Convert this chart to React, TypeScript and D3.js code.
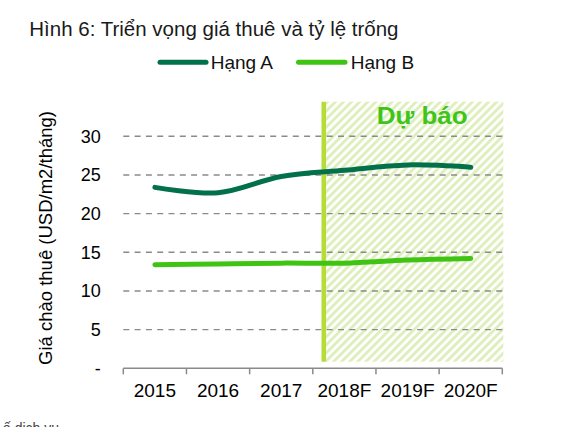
import React from "react";
import * as d3 from "d3";

const categories = ["2015", "2016", "2017", "2018F", "2019F", "2020F"];
const hangA = [23.4, 22.7, 24.8, 25.6, 26.3, 26.0];
const hangB = [13.4, 13.5, 13.6, 13.6, 14.0, 14.2];
const yTicks = [0, 5, 10, 15, 20, 25, 30];
const yTickLabels = ["-", "5", "10", "15", "20", "25", "30"];
const seriesNames = ["Hạng A", "Hạng B"];
const title = "Hình 6: Triển vọng giá thuê và tỷ lệ trống";
const yAxisTitle = "Giá chào thuê (USD/m2/tháng)";
const forecastLabel = "Dự báo";
const footnote = "ấ dịch vụ";

const W = 572;
const H = 427;
const FONT = "'Liberation Sans', Arial, sans-serif";
const colorA = "#03704c";
const colorB = "#40c414";

export default function App() {
  const x = d3.scaleBand<string>().domain(categories).range([123.3, 502.3]);
  const y = d3.scaleLinear().domain([0, 30]).range([368.3, 136.3]);
  const cx = (c: string) => (x(c) as number) + x.bandwidth() / 2;

  const line = d3
    .line<number>()
    .x((_, i) => cx(categories[i]))
    .y((d) => y(d))
    .curve(d3.curveCatmullRom.alpha(0.5));

  const boundaries = categories.map((c) => x(c) as number).concat([x.range()[1]]);
  const forecastX = (x("2018F") as number) + 11;
  const regionTop = 101.7;
  const regionBottom = 361.7;

  return (
    <svg
      width={W}
      height={H}
      style={{ position: "absolute", left: 0, top: 0, display: "block", background: "#fff" }}
      fontFamily={FONT}
    >
      <defs>
        <pattern
          id="hatch"
          patternUnits="userSpaceOnUse"
          width={5.7}
          height={5.7}
          patternTransform="rotate(45)"
        >
          <rect x={0} y={0} width={2.9} height={5.7} fill="#deefbd" />
        </pattern>
      </defs>

      <text x={29.3} y={36} fontSize={20.5} fill="#1a1a1a">
        {title}
      </text>

      {/* legend */}
      <line x1={160} x2={206} y1={62.3} y2={62.3} stroke={colorA} strokeWidth={5} strokeLinecap="round" />
      <text x={210.7} y={68.5} fontSize={19} fill="#111">
        {seriesNames[0]}
      </text>
      <line x1={298.5} x2={345} y1={62.3} y2={62.3} stroke={colorB} strokeWidth={5} strokeLinecap="round" />
      <text x={350.7} y={68.5} fontSize={19} fill="#111">
        {seriesNames[1]}
      </text>

      {/* forecast region */}
      <rect
        x={forecastX + 2.3}
        y={regionTop}
        width={x.range()[1] + 1 - forecastX - 2.3}
        height={regionBottom - regionTop}
        fill="url(#hatch)"
      />

      {/* gridlines */}
      {yTicks.slice(1).map((t) => (
        <line
          key={t}
          x1={x.range()[0]}
          x2={x.range()[1]}
          y1={y(t)}
          y2={y(t)}
          stroke="#8a8a8a"
          strokeWidth={1.4}
          strokeDasharray="6,5.3"
        />
      ))}

      <line
        x1={forecastX}
        x2={forecastX}
        y1={regionTop}
        y2={regionBottom}
        stroke="#b6dc3a"
        strokeWidth={4.6}
      />

      <text x={376.7} y={124.3} fontSize={24} fontWeight="bold" fill="#40c418" textLength={91} lengthAdjust="spacingAndGlyphs">
        {forecastLabel}
      </text>

      {/* x axis */}
      <line x1={x.range()[0]} x2={x.range()[1]} y1={y(0)} y2={y(0)} stroke="#8a8a8a" strokeWidth={1.5} />
      {boundaries.map((b, i) => (
        <line key={i} x1={b} x2={b} y1={y(0)} y2={y(0) + 6} stroke="#8a8a8a" strokeWidth={1.5} />
      ))}
      {categories.map((c) => (
        <text key={c} x={cx(c)} y={396.7} fontSize={19} textAnchor="middle" fill="#000">
          {c}
        </text>
      ))}

      {/* y tick labels */}
      {yTicks.map((t, i) => (
        <text key={t} x={100.7} y={y(t)} dy="0.35em" fontSize={18} textAnchor="end" fill="#000">
          {yTickLabels[i]}
        </text>
      ))}

      <text
        transform={`translate(52, 238) rotate(-90)`}
        fontSize={18.5}
        textAnchor="middle"
        fill="#000"
      >
        {yAxisTitle}
      </text>

      {/* series */}
      <path d={line(hangA) || ""} fill="none" stroke={colorA} strokeWidth={5} strokeLinecap="round" />
      <path d={line(hangB) || ""} fill="none" stroke={colorB} strokeWidth={5} strokeLinecap="round" />

      <text x={3} y={433} fontSize={14} fill="#444">
        {footnote}
      </text>
    </svg>
  );
}
